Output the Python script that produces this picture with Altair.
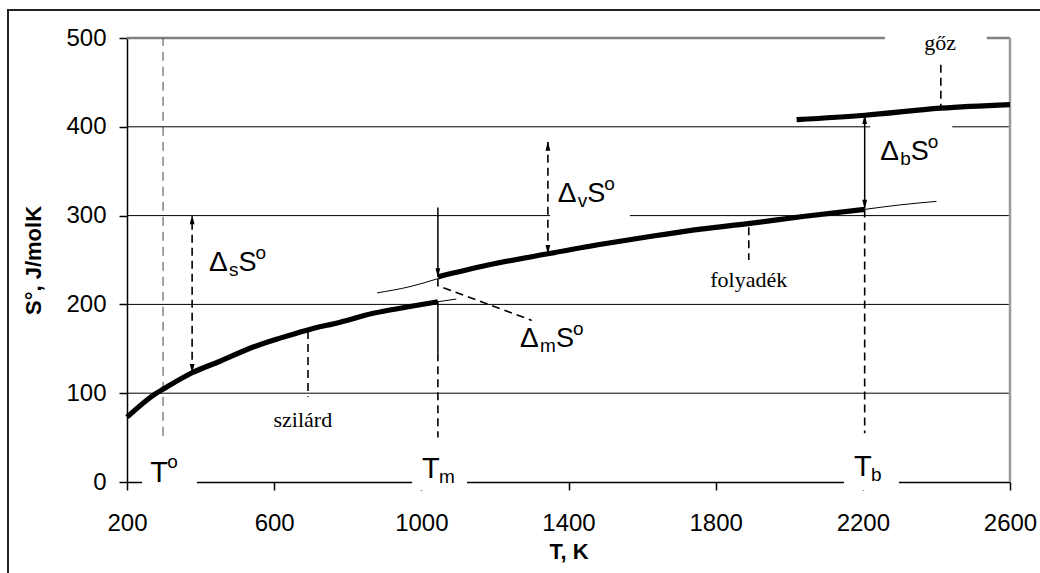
import altair as alt
import pandas as pd

# ---------------- data ----------------
solid_T = [200, 276, 300, 377, 453, 543, 616, 689, 779, 869, 961, 1045]
solid_S = [73, 99, 105, 123, 136, 152, 162, 171, 180, 190, 197, 203]

liquid_T = [1045, 1178, 1344, 1493, 1630, 1765, 1888, 2037, 2205]
liquid_S = [231, 244, 257, 268, 277, 285, 291, 299, 307]

gas_T = [2020, 2205, 2412, 2600]
gas_S = [408, 413, 421, 425]

liq_cool_T = [880, 969, 1045]
liq_cool_S = [213, 220, 229]
liq_hot_T = [2205, 2300, 2400]
liq_hot_S = [307, 312, 316]
sol_hot_T = [1045, 1095]
sol_hot_S = [203, 206]

T_std, T_melt, T_boil = 298, 1045, 2205

x_ticks = [200, 600, 1000, 1400, 1800, 2200, 2600]
y_ticks = [0, 100, 200, 300, 400, 500]
grid_S = [100, 200, 300, 400]

# label texts
phase_text = ["szilárd", "folyadék", "gőz"]
phase_T = [678, 1890, 2410]
phase_S = [62, 220, 486]
leader_T = [692, 1890, 2412]
leader_S1 = [170, 287, 470]
leader_S2 = [96, 250, 423]

delta_sub = ["s", "m", "v", "b"]
delta_T = [423, 1268, 1371, 2247]
delta_S = [238, 152, 315, 363]

# white label backgrounds (data units)
box_T1 = [241, 975, 2149, 1350, 2220, 2260]
box_T2 = [390, 1124, 2298, 1567, 2443, 2537]
box_S1 = [-9, -9, -9, 297, 345, 480]
box_S2 = [30, 30, 30, 360, 405, 508]

# ---------------- tables ----------------
def seg(name, T, S):
    return pd.DataFrame({"seg": name, "T": T, "S": S, "o": range(len(T))})

thick = pd.concat([seg("solid", solid_T, solid_S),
                   seg("liquid", liquid_T, liquid_S),
                   seg("gas", gas_T, gas_S)])
thin = pd.concat([seg("lc", liq_cool_T, liq_cool_S),
                  seg("lh", liq_hot_T, liq_hot_S),
                  seg("sh", sol_hot_T, sol_hot_S)])

dashed = pd.concat([
    seg("ds", [377, 377], [123, 300]),
    seg("dv", [1344, 1344], [257, 383]),
    seg("tm", [T_melt, T_melt], [145, 50]),
    seg("tb", [T_boil, T_boil], [307, 55]),
    seg("dm", [T_melt, T_melt, 1300], [229, 221, 182]),
] + [seg("ld%d" % i, [leader_T[i], leader_T[i]], [leader_S1[i], leader_S2[i]]) for i in range(3)])

gray_dashed = seg("t0", [T_std, T_std], [52, 500])

solid_thin = pd.concat([
    seg("am", [T_melt, T_melt], [309, 231]),
    seg("tm2", [T_melt, T_melt], [203, 145]),
    seg("ab", [T_boil, T_boil], [308, 413]),
])

heads_up = pd.DataFrame({"T": [377, 1344, T_boil], "S": [300, 383, 413]})
heads_dn = pd.DataFrame({"T": [377, 1344, T_boil, T_melt], "S": [123, 257, 308, 231]})

boxes = pd.DataFrame({"T1": box_T1, "T2": box_T2, "S1": box_S1, "S2": box_S2})
grid = pd.DataFrame({"S": grid_S})

xs = alt.Scale(domain=[200, 2600], nice=False, zero=False)
ys = alt.Scale(domain=[0, 500], nice=False, zero=True)
X = alt.X("T:Q", scale=xs,
          axis=alt.Axis(values=x_ticks, format="d", title="T, K", titleX=441.5, titleY=69,
                        titleBaseline="middle", labelPadding=21, labelFlush=False))
Y = alt.Y("S:Q", scale=ys,
          axis=alt.Axis(values=y_ticks, format="d", title="S°, J/molK", titleX=-94, titleY=222,
                        titleAngle=-90, titleAlign="center", titleBaseline="middle",
                        labelPadding=13, labelFlush=False))

layers = []
layers.append(alt.Chart(grid).mark_rule(color="black", strokeWidth=1).encode(y=alt.Y("S:Q", scale=ys)))
layers.append(alt.Chart(pd.DataFrame({"S": [500]})).mark_rule(color="#808080", strokeWidth=2.5)
              .encode(y=alt.Y("S:Q", scale=ys)))
layers.append(alt.Chart(pd.DataFrame({"T": [2600]})).mark_rule(color="#9a9a9a", strokeWidth=2.5)
              .encode(x=alt.X("T:Q", scale=xs)))
layers.append(alt.Chart(boxes).mark_rect(color="white")
              .encode(x=alt.X("T1:Q", scale=xs), x2="T2:Q", y=alt.Y("S1:Q", scale=ys), y2="S2:Q"))

layers.append(alt.Chart(gray_dashed).mark_line(color="#444444", strokeWidth=1, strokeDash=[9, 6])
              .encode(x=X, y=Y, order="o:Q"))
layers.append(alt.Chart(dashed).mark_line(color="black", strokeWidth=1.6, strokeDash=[8, 5])
              .encode(x=X, y=Y, detail="seg:N", order="o:Q"))
layers.append(alt.Chart(solid_thin).mark_line(color="black", strokeWidth=1.5)
              .encode(x=X, y=Y, detail="seg:N", order="o:Q"))
layers.append(alt.Chart(thin).mark_line(color="black", strokeWidth=1, interpolate="monotone")
              .encode(x=X, y=Y, detail="seg:N", order="o:Q"))
layers.append(alt.Chart(thick).mark_line(color="black", strokeWidth=5.2, interpolate="monotone")
              .encode(x=X, y=Y, detail="seg:N", order="o:Q"))

arrow_up = "M0,-1L-0.5,1L0.5,1Z"
arrow_dn = "M0,1L-0.5,-1L0.5,-1Z"
layers.append(alt.Chart(heads_up).mark_point(shape=arrow_up, filled=True, color="black", size=90,
                                              opacity=1, yOffset=4).encode(x=X, y=Y))
layers.append(alt.Chart(heads_dn).mark_point(shape=arrow_dn, filled=True, color="black", size=90,
                                              opacity=1, yOffset=-4).encode(x=X, y=Y))

# phase labels (serif)
phase_df = pd.DataFrame({"T": phase_T, "S": phase_S, "txt": phase_text})
layers.append(alt.Chart(phase_df).mark_text(font="Liberation Serif", fontSize=22, color="black",
                                             align="center", baseline="alphabetic")
              .encode(x=X, y=Y, text="txt:N"))

SANS = "Liberation Sans"
sub_w = {"s": 9.5, "m": 16, "v": 9.5, "b": 10.5}
for i, sub in enumerate(delta_sub):
    d = pd.DataFrame({"T": [delta_T[i]], "S": [delta_S[i]], "a": ["Δ"], "b": [sub], "c": ["S"], "d": ["o"]})
    base = alt.Chart(d)
    layers.append(base.mark_text(font=SANS, fontSize=28, align="left", baseline="alphabetic", color="black")
                  .encode(x=X, y=Y, text="a:N"))
    layers.append(base.mark_text(font=SANS, fontSize=19, align="left", baseline="alphabetic", color="black",
                                 dx=20, dy=5).encode(x=X, y=Y, text="b:N"))
    layers.append(base.mark_text(font=SANS, fontSize=27, align="left", baseline="alphabetic", color="black",
                                 dx=20 + sub_w[sub]).encode(x=X, y=Y, text="c:N"))
    layers.append(base.mark_text(font=SANS, fontSize=19, align="left", baseline="alphabetic", color="black",
                                 dx=20 + sub_w[sub] + 17, dy=-12).encode(x=X, y=Y, text="d:N"))

# temperature labels on the axis
t_T = [263, 1002, 2176]
t_S = [0, 4, 7]
t_sub = ["o", "m", "b"]
t_dy = [-14, 5, 5]
for i in range(3):
    d = pd.DataFrame({"T": [t_T[i]], "S": [t_S[i]], "a": ["T"], "b": [t_sub[i]]})
    base = alt.Chart(d)
    layers.append(base.mark_text(font=SANS, fontSize=29, align="left", baseline="alphabetic", color="black")
                  .encode(x=X, y=Y, text="a:N"))
    layers.append(base.mark_text(font=SANS, fontSize=19, align="left", baseline="alphabetic", color="black",
                                 dx=17, dy=t_dy[i]).encode(x=X, y=Y, text="b:N"))

# outer frame of the figure
layers.append(alt.Chart(pd.DataFrame({"k": [0]})).mark_rect(filled=False, stroke="#222222", strokeWidth=2)
              .encode(x=alt.value(-119), y=alt.value(-28), x2=alt.value(1000), y2=alt.value(700)))

chart = alt.layer(*layers).properties(
    width=883, height=444,
    autosize=alt.AutoSizeParams(type="none"),
    padding={"left": 127, "top": 38, "right": 30, "bottom": 91},
).configure_view(strokeWidth=0).configure_axis(
    grid=False, domainColor="black", domainWidth=1.5, tickColor="black", tickWidth=1.5, tickSize=8,
    labelFont=SANS, labelFontSize=24, labelColor="black",
    titleFont=SANS, titleFontSize=22, titleFontWeight="bold", titleColor="black",
)

chart.save("out.html", embed_options={"renderer": "svg", "actions": False})
